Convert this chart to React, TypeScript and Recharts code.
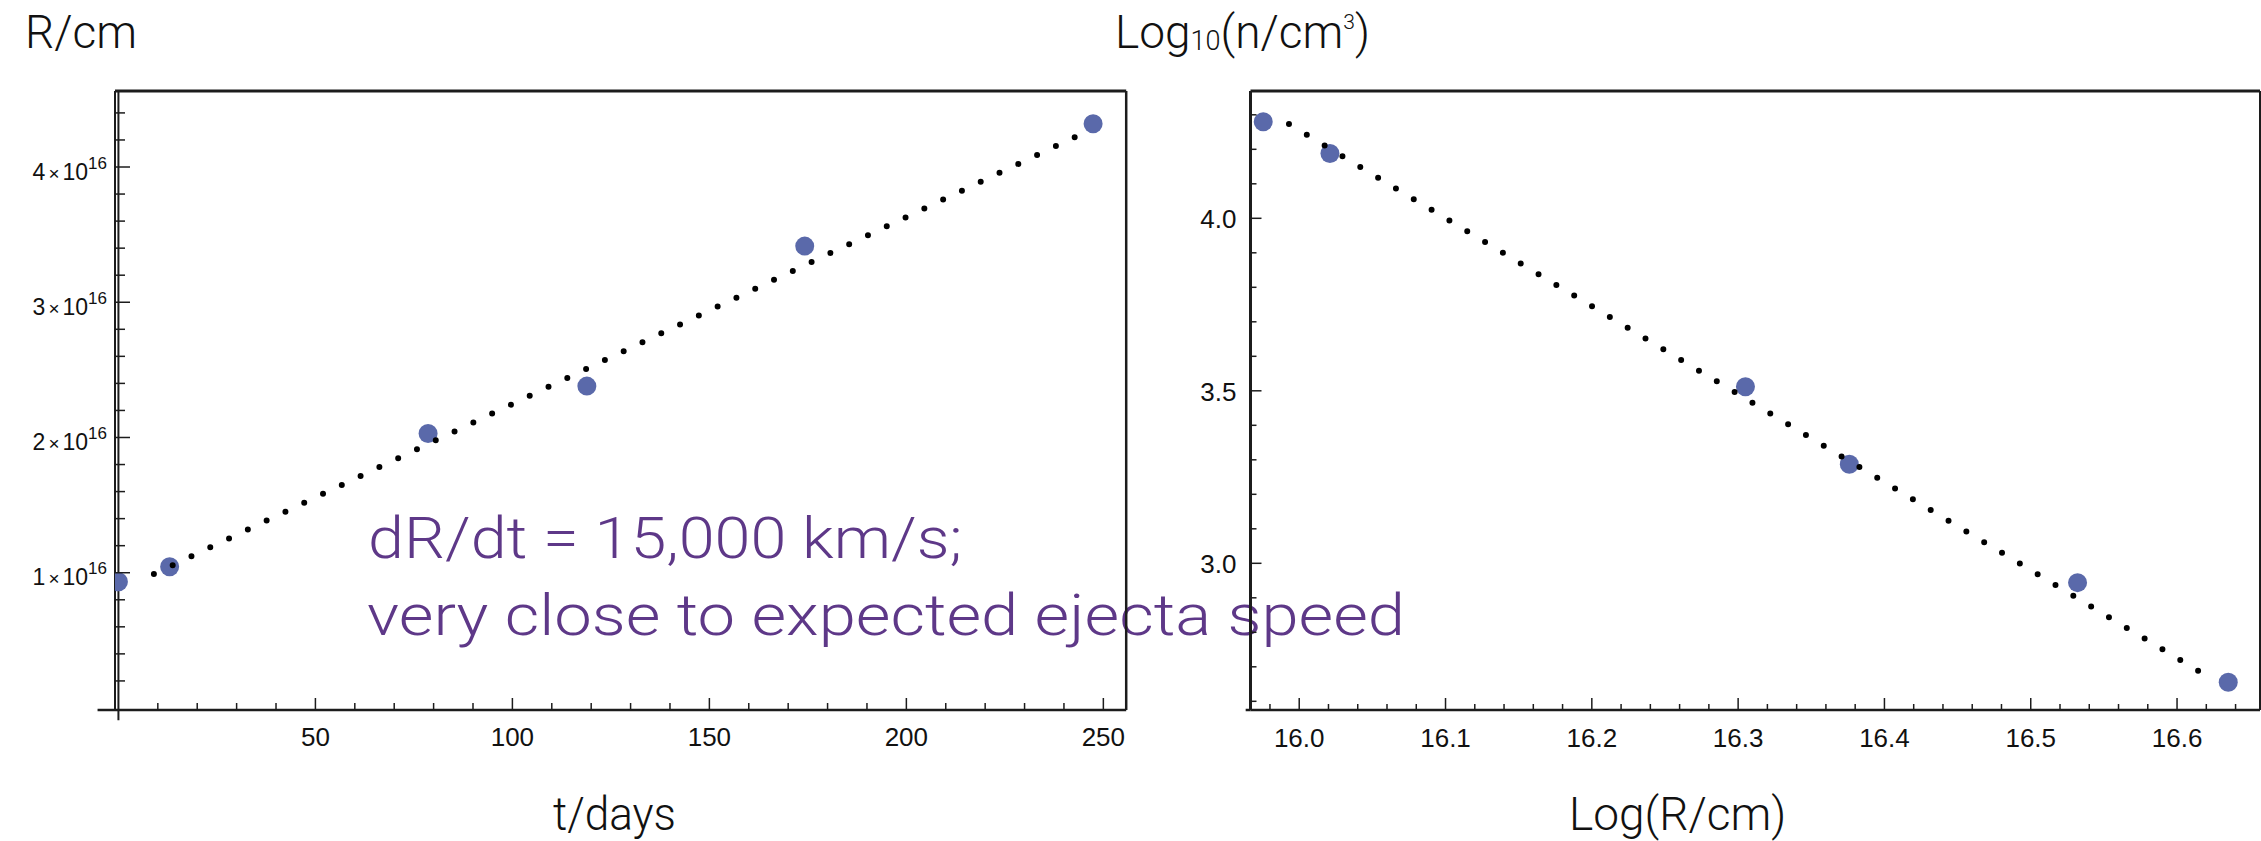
import { ScatterChart, Scatter, XAxis, YAxis, ReferenceLine } from 'recharts'

// ---- left panel: R/cm against t/days ----
const tDays = [0, 13, 78.6, 118.9, 174.2, 247.4]
const radiusCm = [0.933e16, 1.044e16, 2.03e16, 2.38e16, 3.415e16, 4.32e16]
const radiusFitDays = [9, 247]
const radiusFitCm = [0.99e16, 4.28e16]
const radiusTicksX = [0, 10, 20, 30, 40, 50, 60, 70, 80, 90, 100, 110, 120, 130, 140, 150, 160, 170, 180, 190, 200, 210, 220, 230, 240, 250]
const radiusMajorX = [50, 100, 150, 200, 250]
const radiusTicksY = [
  0.2e16, 0.4e16, 0.6e16, 0.8e16, 1e16, 1.2e16, 1.4e16, 1.6e16, 1.8e16, 2e16, 2.2e16,
  2.4e16, 2.6e16, 2.8e16, 3e16, 3.2e16, 3.4e16, 3.6e16, 3.8e16, 4e16, 4.2e16, 4.4e16,
]
const radiusMajorY = [1e16, 2e16, 3e16, 4e16]
const radiusDomainX = [-0.87, 255.8]
const radiusDomainY = [-0.015e16, 4.562e16]

// ---- right panel: Log10(n/cm^3) against Log(R/cm) ----
const logR = [15.9754, 16.021, 16.305, 16.376, 16.532, 16.635]
const logN = [4.28, 4.188, 3.512, 3.287, 2.944, 2.655]
const densityFitLogR = [15.993, 16.6248]
const densityFitLogN = [4.273, 2.662]
const densityTicksX = [
  15.98, 16.0, 16.02, 16.04, 16.06, 16.08, 16.1, 16.12, 16.14, 16.16, 16.18, 16.2, 16.22, 16.24,
  16.26, 16.28, 16.3, 16.32, 16.34, 16.36, 16.38, 16.4, 16.42, 16.44, 16.46, 16.48, 16.5, 16.52,
  16.54, 16.56, 16.58, 16.6, 16.62, 16.64,
]
const densityMajorX = [16.0, 16.1, 16.2, 16.3, 16.4, 16.5, 16.6]
const densityTicksY = [2.6, 2.7, 2.8, 2.9, 3.0, 3.1, 3.2, 3.3, 3.4, 3.5, 3.6, 3.7, 3.8, 3.9, 4.0, 4.1, 4.2, 4.3]
const densityMajorY = [3.0, 3.5, 4.0]
const densityDomainX = [15.9667, 16.6567]
const densityDomainY = [2.5748, 4.369]

const POINT = '#5a69aa'
const INK = '#1c1c1c'
const PURPLE = '#5e3888'
const TICK_FONT = '"Liberation Sans", Arial, sans-serif'
const TITLE_FONT = 'Roboto, "Liberation Sans", sans-serif'

const has = (list: number[], v: number) => list.some((m) => Math.abs(m - v) < 1e-9 * Math.max(1, Math.abs(m)))

const radiusPoints = tDays.map((t, i) => ({ x: t, y: radiusCm[i] }))
const radiusFit = radiusFitDays.map((t, i) => ({ x: t, y: radiusFitCm[i] }))
const densityPoints = logR.map((r, i) => ({ x: r, y: logN[i] }))
const densityFit = densityFitLogR.map((r, i) => ({ x: r, y: densityFitLogN[i] }))

const dot = (p: any) => <circle cx={p.cx} cy={p.cy} r={9.5} fill={POINT} />
const noDot = () => <g />
const dotted = { stroke: '#000', strokeWidth: 6, strokeDasharray: '0 20.8', strokeLinecap: 'round' as const }

function radiusXTick(p: any) {
  const v = p.payload.value
  if (v === 0) return <g />
  const major = has(radiusMajorX, v)
  return (
    <g>
      <line x1={p.x} x2={p.x} y1={p.y} y2={p.y - (major ? 12 : 7)} stroke={INK} strokeWidth={1.5} />
      {major && (
        <text x={p.x} y={p.y + 36} textAnchor="middle" fontSize={26} fontFamily={TICK_FONT} fill="#111">
          {v}
        </text>
      )}
    </g>
  )
}

function radiusYTick(p: any) {
  const v = p.payload.value
  const major = has(radiusMajorY, v)
  return (
    <g>
      <line x1={p.x} x2={p.x + (major ? 15 : 10)} y1={p.y} y2={p.y} stroke={INK} strokeWidth={1.5} />
      {major && (
        <text x={p.x - 8} y={p.y + 12.5} textAnchor="end" fontSize={23} fontFamily={TICK_FONT} fill="#111">
          <tspan>{Math.round(v / 1e16)}</tspan>
          <tspan dx={3} fontSize={19}>×</tspan>
          <tspan dx={3}>10</tspan>
          <tspan dy={-11} fontSize={17}>16</tspan>
        </text>
      )}
    </g>
  )
}

function densityXTick(p: any) {
  const v = p.payload.value
  const major = has(densityMajorX, v)
  return (
    <g>
      <line x1={p.x} x2={p.x} y1={p.y} y2={p.y - (major ? 12 : 6)} stroke={INK} strokeWidth={1.5} />
      {major && (
        <text x={p.x} y={p.y + 37} textAnchor="middle" fontSize={26} fontFamily={TICK_FONT} fill="#111">
          {v.toFixed(1)}
        </text>
      )}
    </g>
  )
}

function densityYTick(p: any) {
  const v = p.payload.value
  const major = has(densityMajorY, v)
  return (
    <g>
      <line x1={p.x} x2={p.x + (major ? 11 : 6)} y1={p.y} y2={p.y} stroke={INK} strokeWidth={1.5} />
      {major && (
        <text x={p.x - 14} y={p.y + 10} textAnchor="end" fontSize={26} fontFamily={TICK_FONT} fill="#111">
          {v.toFixed(1)}
        </text>
      )}
    </g>
  )
}

export default function App() {
  return (
    <div style={{ position: 'absolute', left: 0, top: 0, width: 2261, height: 841, background: '#fff', overflow: 'hidden' }}>
      <svg width={2261} height={841} style={{ position: 'absolute', left: 0, top: 0 }}>
        <g fontFamily={TITLE_FONT} fontWeight={300} fill="#111" fontSize={46}>
          <text x={25} y={48}>R/cm</text>
          <text x={1115} y={48}>
            Log<tspan fontSize={27} dy={2}>10</tspan>
            <tspan dy={-2}>(n/cm</tspan>
            <tspan fontSize={21} dy={-19}>3</tspan>
            <tspan dy={19}>)</tspan>
          </text>
          <text x={553} y={830} textLength={123} lengthAdjust="spacingAndGlyphs">t/days</text>
          <text x={1569} y={830}>Log(R/cm)</text>
        </g>
        <g fontFamily={TITLE_FONT} fontWeight={300} fill={PURPLE} fontSize={58}>
          <text x={368} y={558} textLength={594} lengthAdjust="spacingAndGlyphs">dR/dt = 15,000 km/s;</text>
          <text x={367} y={635} textLength={1038} lengthAdjust="spacingAndGlyphs">very close to expected ejecta speed</text>
        </g>
      </svg>

      <div style={{ position: 'absolute', left: 0, top: 0 }}>
        <ScatterChart width={1180} height={841} margin={{ top: 91, right: 53.8, bottom: 130, left: 114 }}>
          <XAxis
            type="number"
            dataKey="x"
            domain={radiusDomainX}
            allowDataOverflow
            ticks={radiusTicksX}
            interval={0}
            height={1}
            tickSize={0}
            tickMargin={0}
            tickLine={false}
            axisLine={{ stroke: INK, strokeWidth: 2.5 }}
            tick={radiusXTick}
          />
          <YAxis
            type="number"
            dataKey="y"
            domain={radiusDomainY}
            allowDataOverflow
            ticks={radiusTicksY}
            interval={0}
            width={1}
            tickSize={0}
            tickMargin={0}
            tickLine={false}
            axisLine={{ stroke: INK, strokeWidth: 2 }}
            tick={radiusYTick}
          />
          <ReferenceLine y={radiusDomainY[1]} stroke={INK} strokeWidth={3} ifOverflow="visible" />
          <ReferenceLine x={radiusDomainX[1]} stroke={INK} strokeWidth={2.5} ifOverflow="visible" />
          <ReferenceLine
            segment={[{ x: 0, y: -0.09e16 }, { x: 0, y: radiusDomainY[1] }]}
            stroke={INK}
            strokeWidth={2}
            ifOverflow="visible"
          />
          <ReferenceLine
            segment={[{ x: -5.3, y: radiusDomainY[0] }, { x: radiusDomainX[0], y: radiusDomainY[0] }]}
            stroke={INK}
            strokeWidth={2.5}
            ifOverflow="visible"
          />
          <Scatter data={radiusPoints} shape={dot} isAnimationActive={false} />
          <Scatter data={radiusFit} shape={noDot} line={dotted} isAnimationActive={false} />
        </ScatterChart>
      </div>

      <div style={{ position: 'absolute', left: 1180, top: 0 }}>
        <ScatterChart width={1081} height={841} margin={{ top: 91, right: 1, bottom: 130, left: 69.5 }}>
          <XAxis
            type="number"
            dataKey="x"
            domain={densityDomainX}
            allowDataOverflow
            ticks={densityTicksX}
            interval={0}
            height={1}
            tickSize={0}
            tickMargin={0}
            tickLine={false}
            axisLine={{ stroke: INK, strokeWidth: 2.5 }}
            tick={densityXTick}
          />
          <YAxis
            type="number"
            dataKey="y"
            domain={densityDomainY}
            allowDataOverflow
            ticks={densityTicksY}
            interval={0}
            width={1}
            tickSize={0}
            tickMargin={0}
            tickLine={false}
            axisLine={{ stroke: INK, strokeWidth: 3 }}
            tick={densityYTick}
          />
          <ReferenceLine y={densityDomainY[1]} stroke={INK} strokeWidth={3} ifOverflow="visible" />
          <ReferenceLine x={densityDomainX[1]} stroke={INK} strokeWidth={2} ifOverflow="visible" />
          <ReferenceLine
            segment={[{ x: 15.9634, y: densityDomainY[0] }, { x: densityDomainX[0], y: densityDomainY[0] }]}
            stroke={INK}
            strokeWidth={2.5}
            ifOverflow="visible"
          />
          <Scatter data={densityPoints} shape={dot} isAnimationActive={false} />
          <Scatter data={densityFit} shape={noDot} line={dotted} isAnimationActive={false} />
        </ScatterChart>
      </div>
    </div>
  )
}
